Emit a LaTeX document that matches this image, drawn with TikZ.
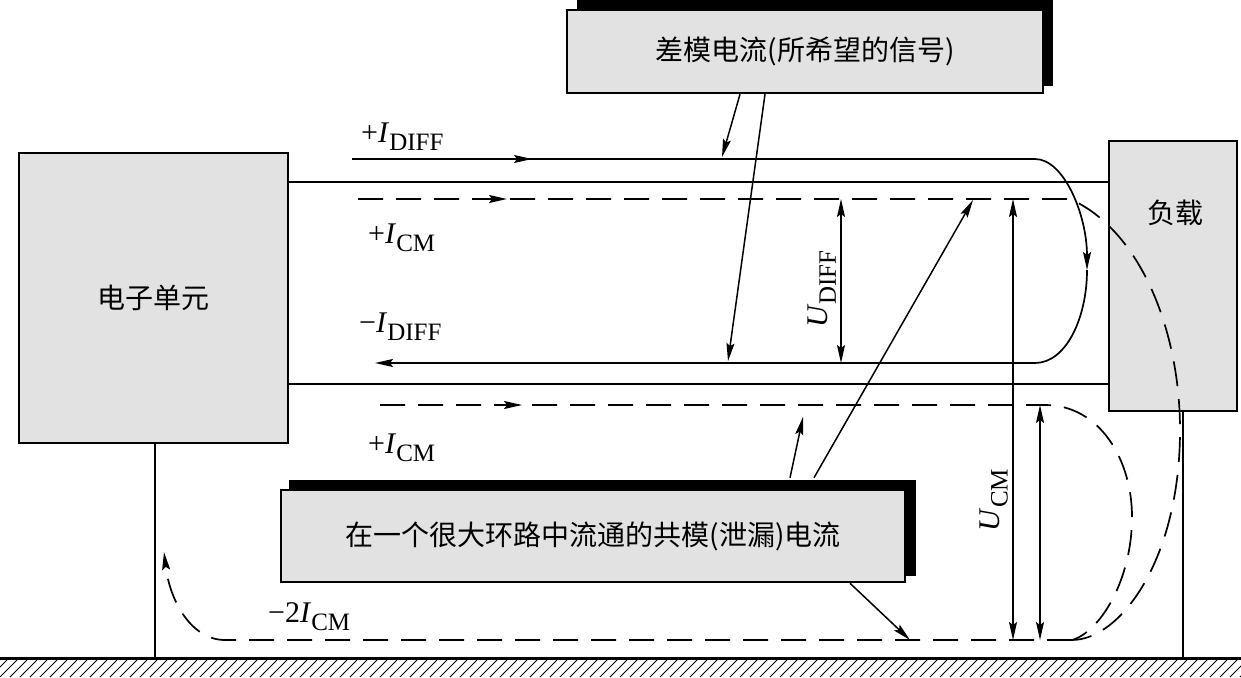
\documentclass[tikz,border=0pt]{standalone}
\usepackage{fontspec}
\setmainfont{Liberation Serif}
\newfontfamily\cjk{Noto Sans CJK SC}
\usetikzlibrary{arrows.meta,decorations.markings,calc}
\definecolor{boxgray}{RGB}{226,226,226}
\newcommand\qlbl[3]{\fontsize{30}{32}\selectfont #1\textit{#2}\raisebox{-8pt}{\fontsize{25}{25}\selectfont #3}}
\begin{document}
\begin{tikzpicture}[x=1pt,y=-1pt,
  tip/.tip={Stealth[length=18pt,width=8pt,inset=3pt]},
  wire/.style={line width=1.7pt},
  dline/.style={line width=1.7pt, dash pattern=on 25pt off 13pt},
  box/.style={draw, line width=2.5pt, fill=boxgray, inner sep=0pt},
  cjklbl/.style={font=\cjk\fontsize{28}{30}\selectfont},
  ptr/.style={line width=1.5pt, -tip},
  dim/.style={line width=1.5pt, tip-tip},
  lbl/.style={inner sep=0pt, anchor=base west},
  midarrow/.style={postaction={decorate}, decoration={markings, mark=at position #1 with {\arrow{tip}}}}
]
\useasboundingbox (0,0) rectangle (1241,677);

% boxes
\node[box, minimum width=269pt, minimum height=290pt, cjklbl] (eu) at (153.5,298) {电子单元};
\node[box, minimum width=128pt, minimum height=270pt] (load) at (1173,276) {};
\node[cjklbl, inner sep=0pt] (loadtxt) at (1175,213) {负载};

\fill (577,0) rectangle (1053,86);
\node[box, minimum width=476pt, minimum height=83pt, cjklbl] (tb) at (805,51.5) {差模电流(所希望的信号)};

\fill (289,480) rectangle (916,576);
\node[box, minimum width=624pt, minimum height=92pt, cjklbl] (bb) at (593,536) {在一个很大环路中流通的共模(泄漏)电流};

% coordinates
\coordinate (yw1) at (0,182);
\coordinate (yw2) at (0,384);
\coordinate (s0) at (352,159);
\coordinate (s1) at (1035,159);
\coordinate (s2) at (1087,270);
\coordinate (s3) at (1035,363);
\coordinate (s4) at (375,363);
\coordinate (d0) at (358,199);
\coordinate (d1) at (1070,199);
\coordinate (d2) at (1180,430);
\coordinate (d3) at (1072,640);
\coordinate (e0) at (380,405);
\coordinate (e1) at (1045,405);
\coordinate (e2) at (1132,517);
\coordinate (f0) at (225,640);
\coordinate (f1) at (164,552);
\coordinate (g1) at (155,657);
\coordinate (g2) at (1183,657);

% wires
\draw[wire] (eu.east |- yw1) -- (load.west |- yw1);
\draw[wire] (eu.east |- yw2) -- (load.west |- yw2);
\draw[wire] (eu.south -| g1) -- (g1);
\draw[wire] (load.south -| g2) -- (g2);

% differential current loop
\draw[wire, midarrow=180pt, -tip] (s0) -- (s1) .. controls (1064,159) and (1087,215) .. (s2);
\draw[wire, -tip] (s2) .. controls (1087,318) and (1066,363) .. (s3) -- (s4);

% common-mode currents
\draw[dline, midarrow=149pt] (d0) -- (d1) .. controls (1140,230) and (1180,330) .. (d2)
   .. controls (1180,560) and (1120,640) .. (d3);
\draw[dline, midarrow=142pt] (e0) -- (e1) .. controls (1100,405) and (1132,460) .. (e2)
   .. controls (1132,580) and (1100,632) .. (d3);
\draw[dline, -tip] (d3) -- (f0) .. controls (192,640) and (170,602) .. (f1);

% voltages
\coordinate (u1a) at (841,199);
\coordinate (u1b) at (841,363);
\coordinate (u2a) at (1013,199);
\coordinate (u2b) at (1013,640);
\coordinate (u3a) at (1040,405);
\coordinate (u3b) at (1040,640);
\draw[dim] (u1a) -- (u1b);
\draw[dim] (u2a) -- (u2b);
\draw[dim] (u3a) -- (u3b);

% pointers
\coordinate (p1) at (722,157);
\coordinate (p2) at (728,361);
\coordinate (p3) at (803,417);
\coordinate (p4) at (973,200);
\coordinate (p5) at (910,640);
\draw[ptr] ([xshift=-65pt]tb.south) -- (p1);
\draw[ptr] ([xshift=-40pt]tb.south) -- (p2);
\draw[ptr] ([xshift=197pt,yshift=11pt]bb.north) -- (p3);
\draw[ptr] ([xshift=221pt,yshift=11pt]bb.north) -- (p4);
\draw[ptr] ([xshift=257pt]bb.south) -- (p5);

% labels
\node[lbl] (l1) at (361,142) {\qlbl{+}{I}{DIFF}};
\node[lbl] (l2) at (368,243) {\qlbl{+}{I}{CM}};
\node[lbl] (l3) at (359,332) {\qlbl{−}{I}{DIFF}};
\node[lbl] (l4) at (368,453) {\qlbl{+}{I}{CM}};
\node[lbl] (l5) at (268,622) {\qlbl{−2}{I}{CM}};
\node[inner sep=0pt, rotate=90] (l6) at (822,289) {\qlbl{}{U}{DIFF}};
\node[inner sep=0pt, rotate=90] (l7) at (994,500) {\qlbl{}{U}{CM}};

% ground
\draw[line width=3pt] (0,658.5) -- (1241,658.5);
\begin{scope}
\clip (0,660) rectangle (1241,677);
\foreach \i in {-20,-10,...,1250} \draw[line width=1pt] (\i,677) -- (\i+17,660);
\end{scope}
\end{tikzpicture}
\end{document}
